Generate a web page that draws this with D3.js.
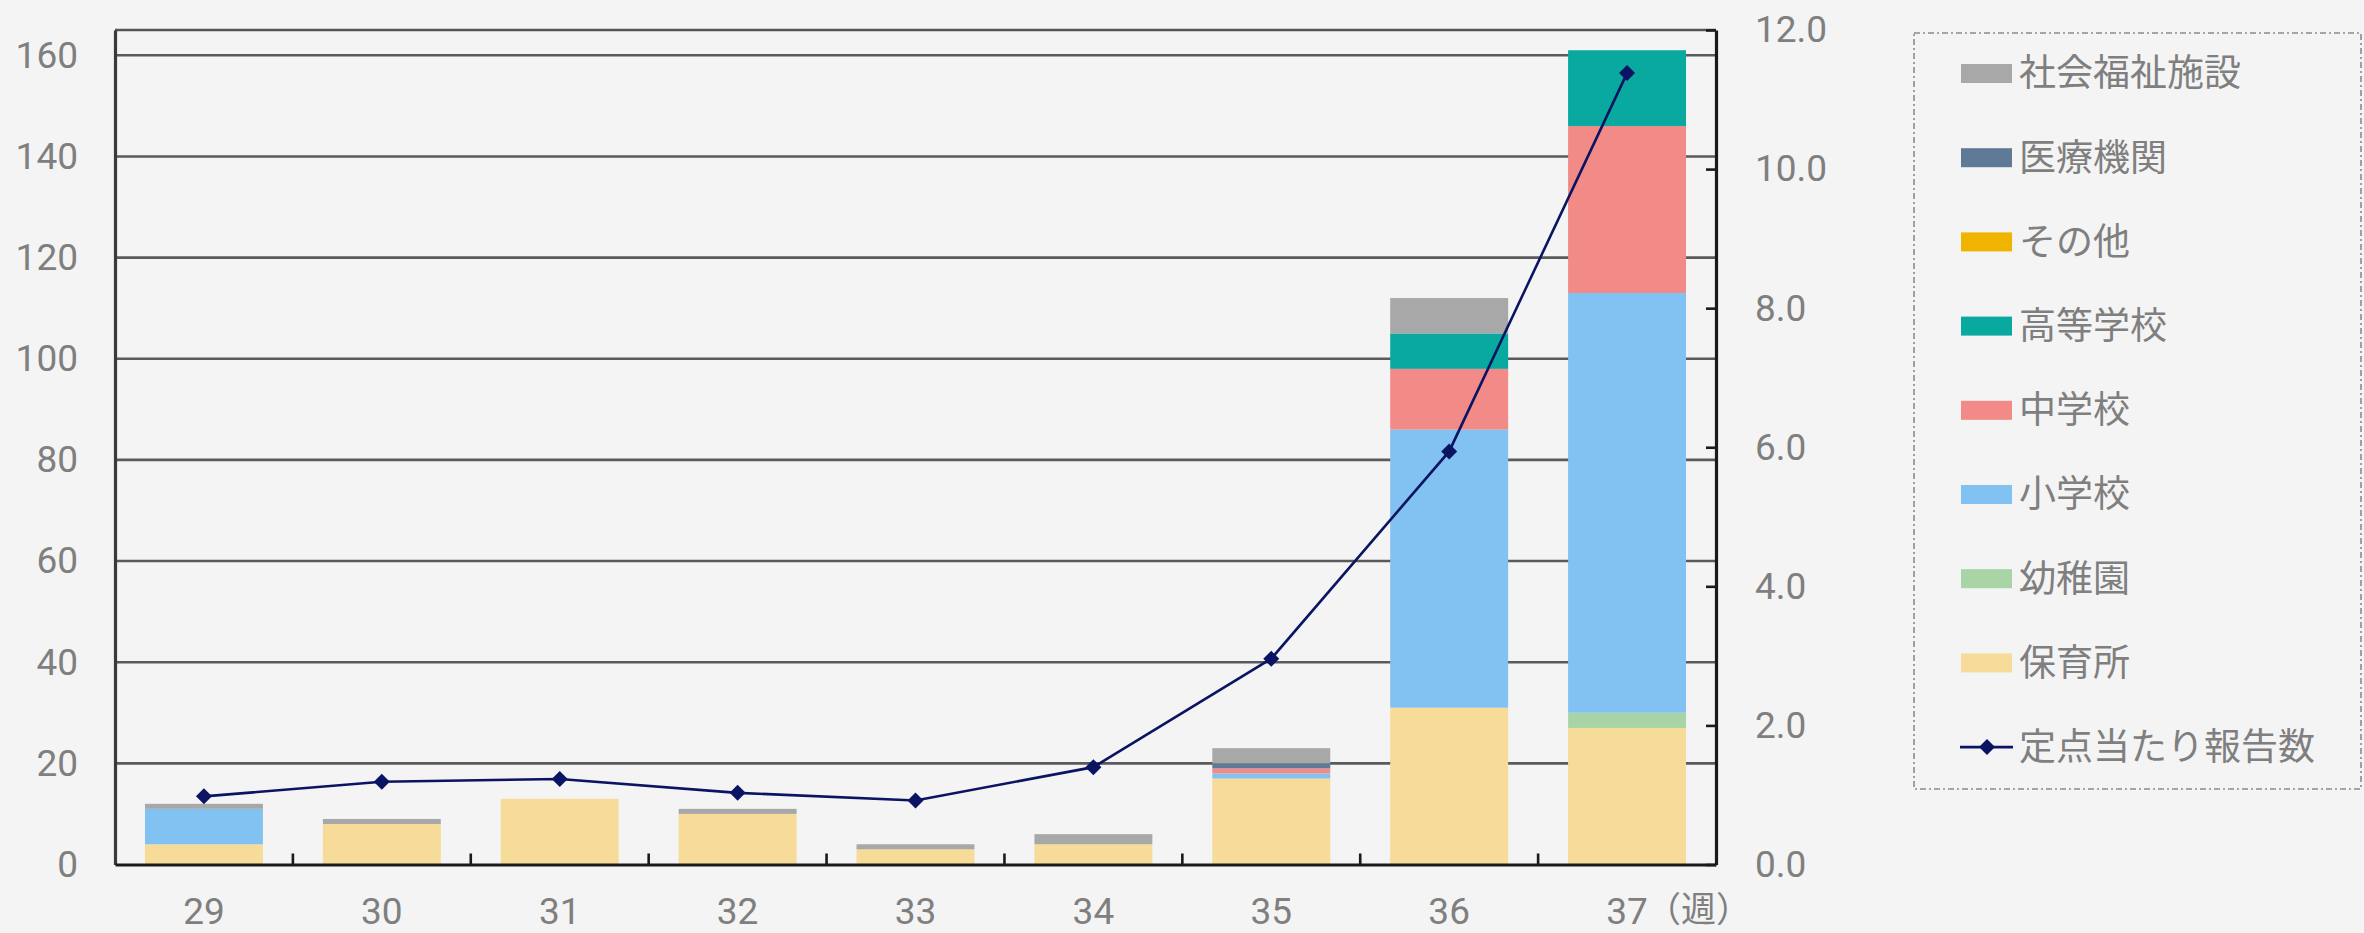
<!DOCTYPE html>
<html lang="ja">
<head>
<meta charset="utf-8">
<script src="https://cdn.jsdelivr.net/npm/d3@7"></script>
<style>
  html, body { margin: 0; padding: 0; background: #f4f4f4; }
  svg { display: block; }
  text { font-family: Roboto, "Noto Sans CJK JP", sans-serif; fill: #7f7f7f; }
</style>
</head>
<body>
<svg id="chart" width="2364" height="933"></svg>
<script>
// Weeks on the category axis
const weeks = ["29", "30", "31", "32", "33", "34", "35", "36", "37"];

// Reported cases by facility type (stacked bars, left axis)
const hoikusho  = [4, 8, 13, 10, 3, 4, 17, 31, 27];   // 保育所
const youchien  = [0, 0, 0, 0, 0, 0, 0, 0, 3];        // 幼稚園
const shogakko  = [7, 0, 0, 0, 0, 0, 1, 55, 83];      // 小学校
const chugakko  = [0, 0, 0, 0, 0, 0, 1, 12, 33];      // 中学校
const kotogakko = [0, 0, 0, 0, 0, 0, 0, 7, 15];       // 高等学校
const sonota    = [0, 0, 0, 0, 0, 0, 0, 0, 0];        // その他
const iryo      = [0, 0, 0, 0, 0, 0, 1, 0, 0];        // 医療機関
const fukushi   = [1, 1, 0, 1, 1, 2, 3, 7, 0];        // 社会福祉施設

// Reports per sentinel site (line, right axis)
const perSentinel = [0.98, 1.19, 1.23, 1.03, 0.92, 1.40, 2.96, 5.94, 11.38];

const seriesNames  = ["保育所", "幼稚園", "小学校", "中学校", "高等学校", "その他", "医療機関", "社会福祉施設"];
const seriesValues = [hoikusho, youchien, shogakko, chugakko, kotogakko, sonota, iryo, fukushi];
const seriesColors = ["#f6dc98", "#a9d4a6", "#82c2f2", "#f28b87", "#0aa9a0", "#f0b400", "#5f7a96", "#a8a8a8"];
const lineName = "定点当たり報告数";
const weekUnit = "（週）";

const leftTicks  = [0, 20, 40, 60, 80, 100, 120, 140, 160];
const rightTicks = [0, 2, 4, 6, 8, 10, 12];
const leftMax = 165, rightMax = 12;

// Layout
const plot = { left: 115, right: 1716, top: 30, bottom: 864.5 };
const fontSize = 37;
const lineColor = "#0b1462";

const svg = d3.select("#chart");

const x = d3.scaleBand().domain(weeks).range([plot.left, plot.right])
  .paddingInner(0.337).paddingOuter(0.337 / 2);
const yL = d3.scaleLinear().domain([0, leftMax]).range([plot.bottom, plot.top]);
const yR = d3.scaleLinear().domain([0, rightMax]).range([plot.bottom, plot.top]);

// Table for stacking
const table = weeks.map((w, i) => {
  const row = { week: w };
  seriesNames.forEach((n, k) => { row[n] = seriesValues[k][i]; });
  return row;
});
const stacked = d3.stack().keys(seriesNames)(table);

// Horizontal gridlines
svg.append("g").selectAll("line")
  .data(leftTicks.filter(d => d > 0))
  .join("line")
  .attr("x1", plot.left).attr("x2", plot.right)
  .attr("y1", d => yL(d)).attr("y2", d => yL(d))
  .attr("stroke", "#5a5a5a").attr("stroke-width", 2.6);

// Top frame line
svg.append("line")
  .attr("x1", plot.left).attr("x2", plot.right)
  .attr("y1", plot.top).attr("y2", plot.top)
  .attr("stroke", "#555").attr("stroke-width", 2.6);

// Stacked bars
svg.append("g").selectAll("g")
  .data(stacked)
  .join("g")
  .attr("fill", (d, k) => seriesColors[k])
  .selectAll("rect")
  .data(d => d)
  .join("rect")
  .attr("x", d => x(d.data.week))
  .attr("width", x.bandwidth())
  .attr("y", d => yL(d[1]))
  .attr("height", d => yL(d[0]) - yL(d[1]));

// Left axis
const axL = svg.append("g")
  .attr("transform", `translate(${plot.left},0)`)
  .call(d3.axisLeft(yL).tickValues(leftTicks).tickSize(0).tickPadding(37));
axL.select(".domain").attr("stroke", "#3a3a3a").attr("stroke-width", 3.2);
axL.selectAll("text").style("font-size", fontSize + "px").attr("fill", "#7f7f7f");

// Right axis
const axR = svg.append("g")
  .attr("transform", `translate(${plot.right},0)`)
  .call(d3.axisRight(yR).tickValues(rightTicks).tickFormat(d3.format(".1f"))
    .tickSizeInner(-10).tickSizeOuter(0).tickPadding(39));
axR.select(".domain").attr("stroke", "#1a1a1a").attr("stroke-width", 3.2);
axR.selectAll(".tick line").attr("stroke", "#1a1a1a").attr("stroke-width", 2.6);
axR.selectAll("text").style("font-size", fontSize + "px").attr("fill", "#7f7f7f");

// Bottom axis
const axB = svg.append("g")
  .attr("transform", `translate(0,${plot.bottom})`)
  .call(d3.axisBottom(x).tickSize(0).tickPadding(33));
axB.select(".domain").attr("stroke", "#1a1a1a").attr("stroke-width", 3.2);
axB.selectAll("text").style("font-size", fontSize + "px").attr("fill", "#7f7f7f");

// Category boundary ticks pointing into the plot
const boundaries = d3.range(1, weeks.length).map(i => plot.left + i * x.step());
axB.append("g").selectAll("line")
  .data(boundaries)
  .join("line")
  .attr("x1", d => d).attr("x2", d => d)
  .attr("y1", 0).attr("y2", -11)
  .attr("stroke", "#1a1a1a").attr("stroke-width", 2.6);

// Unit after the last week label
const lastCx = x(weeks[weeks.length - 1]) + x.bandwidth() / 2;
svg.append("text")
  .attr("x", lastCx + 19)
  .attr("y", plot.bottom + 33)
  .attr("dy", "0.71em")
  .style("font-size", "35px")
  .text(weekUnit);

// Line with diamond markers (right axis)
const cx = (d, i) => x(weeks[i]) + x.bandwidth() / 2;
svg.append("path")
  .datum(perSentinel)
  .attr("fill", "none")
  .attr("stroke", lineColor)
  .attr("stroke-width", 2.6)
  .attr("d", d3.line().x(cx).y(d => yR(d)));

// Square symbol rotated 45° gives an even diamond
const marker = d3.symbol().type(d3.symbolSquare).size(128);
svg.append("g").selectAll("path")
  .data(perSentinel)
  .join("path")
  .attr("transform", (d, i) => `translate(${cx(d, i)},${yR(d)}) rotate(45)`)
  .attr("d", marker)
  .attr("fill", lineColor);

// Legend
const legend = svg.append("g");
legend.append("rect")
  .attr("x", 1914).attr("y", 33)
  .attr("width", 447).attr("height", 756)
  .attr("fill", "none")
  .attr("stroke", "#8a8a8a").attr("stroke-width", 1.6)
  .attr("stroke-dasharray", "6,3,2,3");

const legendItems = seriesNames.map((n, k) => ({ name: n, color: seriesColors[k], type: "bar" })).reverse();
legendItems.push({ name: lineName, color: lineColor, type: "line" });

const rowY = i => 73.5 + i * 84.2;
const item = legend.selectAll("g.item")
  .data(legendItems)
  .join("g")
  .attr("class", "item")
  .attr("transform", (d, i) => `translate(0,${rowY(i)})`);

item.filter(d => d.type === "bar").append("rect")
  .attr("x", 1961).attr("y", -9.5)
  .attr("width", 51).attr("height", 19)
  .attr("fill", d => d.color);

const lineItem = item.filter(d => d.type === "line");
lineItem.append("line")
  .attr("x1", 1960).attr("x2", 2013).attr("y1", 0).attr("y2", 0)
  .attr("stroke", lineColor).attr("stroke-width", 2.6);
lineItem.append("path")
  .attr("transform", "translate(1987,0) rotate(45)")
  .attr("d", marker)
  .attr("fill", lineColor);

item.append("text")
  .attr("x", 2019).attr("y", 0)
  .attr("dy", "0.35em")
  .style("font-size", fontSize + "px")
  .text(d => d.name);
</script>
</body>
</html>
